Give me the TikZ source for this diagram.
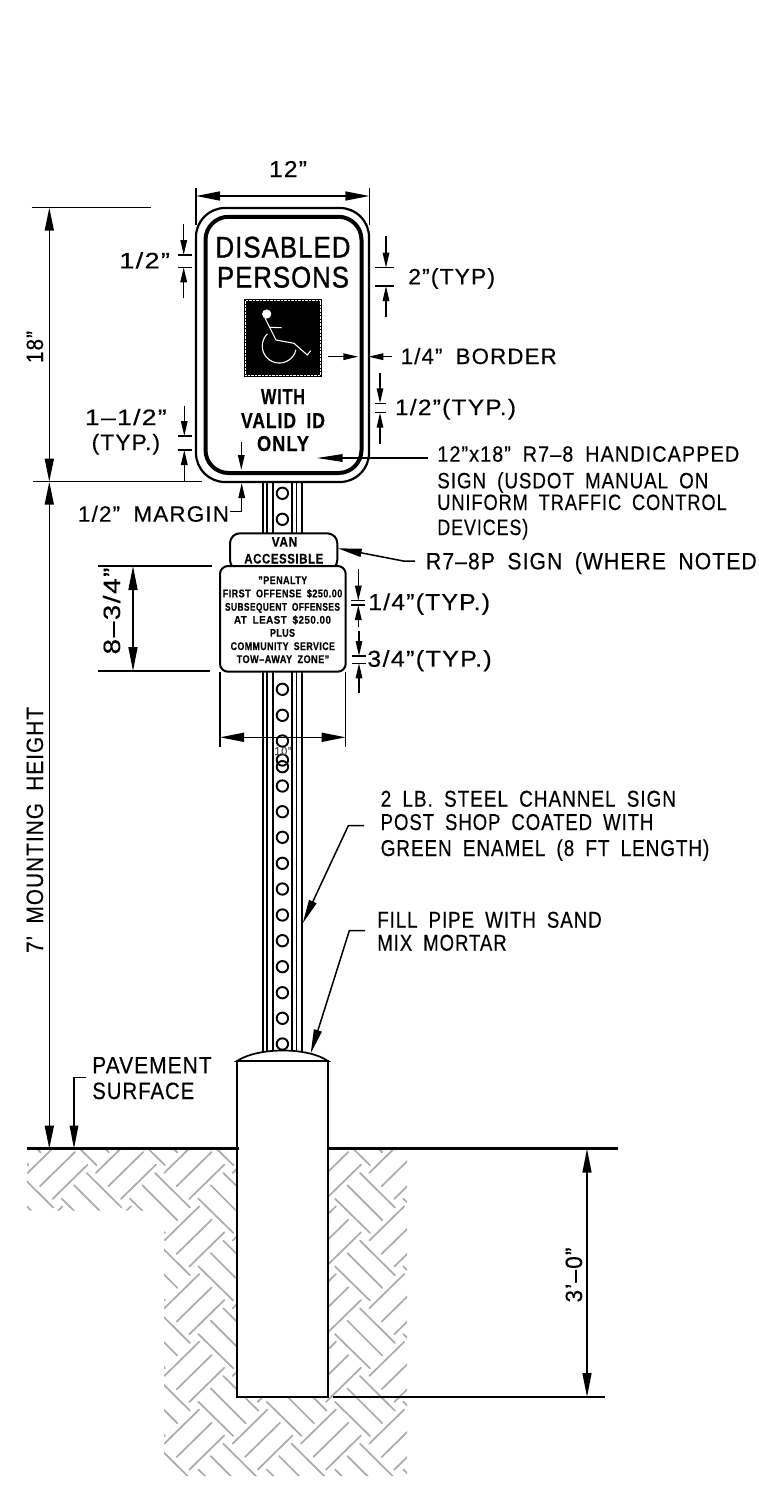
\documentclass[tikz,border=0pt]{standalone}
\usepackage{fontspec}
\usepackage{graphicx}
\setmainfont{Liberation Sans}[LetterSpace=5,WordSpace=1.8,FakeBold=0.35]
\newfontfamily\heavyf{Liberation Sans}[LetterSpace=4,WordSpace=1.8,FakeBold=1.1]
\usetikzlibrary{arrows.meta}
\newcommand\lbl[3]{\resizebox{#1pt}{#2pt}{\rule{0pt}{7.2pt}\smash{\fontsize{10}{10}\selectfont #3}}}
\tikzset{
  lab/.style={inner sep=0pt,outer sep=0pt,anchor=south west},
  labc/.style={inner sep=0pt,outer sep=0pt,anchor=south},
  labr/.style={inner sep=0pt,outer sep=0pt,anchor=south,rotate=90},
  thinl/.style={line width=1.5pt,black},
  small/.style={thinl,-{Triangle[length=15pt,width=6.5pt]}},
  hatchl/.style={line width=1.7pt,color=black!33,line cap=round},
}
\begin{document}
\begin{tikzpicture}[x=1pt,y=-1pt]
\useasboundingbox (0,0) rectangle (759,1488);
\fill[white] (0,0) rectangle (759,1488);
% hatch
\begin{scope}
\clip (27,1150) -- (407,1150) -- (407,1476) -- (164,1476) -- (164,1210.5) -- (27,1210.5) -- cycle;
\foreach \i in {-3,...,4}{\foreach \j in {-4,...,2}{
 \begin{scope}[shift={({\i*68.33},{\j*67.7})}]
 \draw[hatchl] (164.3,1376)--(199.3,1341.7) (176.7,1389.3)--(211.7,1355) (189.3,1402)--(224.3,1367.7);
 \draw[hatchl] (198.3,1401.7)--(233.3,1436) (210.7,1388.3)--(245.7,1423.3) (223.3,1376)--(258.3,1410.7);
 \end{scope}
}}
\end{scope}
% post
\foreach \x in {262.9,267.3,272.8,292.2,296.6,301.7}{\draw[line width=1.7pt] (\x,482)--(\x,1052);}
\foreach \y in {493.3,519.3,689.3,715.3,741,760,766.7,786,811.7,837.3,863.3,889,915,940.7,966.7,992.7,1018.3,1044}{
  \draw[line width=1.9pt] (282.4,\y) circle[radius=5.7];}
% concrete
\draw[line width=1.7pt,fill=white] (237,1061) .. controls (258,1047) and (308,1047) .. (328,1061) -- cycle;
\draw[line width=1.8pt,fill=white] (237,1061) rectangle (327.8,1397);
% ground
\draw[line width=2.6pt] (27,1148.7)--(239,1148.7) (328.6,1148.7)--(618,1148.7);
\draw[thinl] (333,1397)--(605,1397);
% main sign
\draw[line width=2.2pt,fill=white,rounded corners=29pt] (196,208) rectangle (369,482);
\draw[line width=4pt,rounded corners=23pt] (205.5,216.8) rectangle (361.5,473);
\node[labc] (disabled) at (283,257.5) {\lbl{135}{21.5}{\heavyf DISABLED}};
\node[labc] (persons) at (283,287.5) {\lbl{132}{21.5}{\heavyf PERSONS}};
\fill[black] (244,299) rectangle (321.7,376.7);
\draw[white,line width=.4pt,densely dotted] (245.5,300.5) rectangle (320.2,375.2);
\fill[white] (266.7,314) circle[radius=4.6];
\draw[white,line width=1.1pt,line join=round] (265,318)--(276,340)--(294,343.3)--(307.3,355)--(310.7,350.7);
\draw[white,line width=1.1pt] (270,327.3)--(281.7,327.7);
\draw[white,line width=1.1pt] plot[domain=226:13,samples=40] ({279.3+17*cos(\x)},{346+17*sin(\x)});
\node[labc] (with) at (283,404) {\lbl{44}{15.5}{\bfseries WITH}};
\node[labc] (valid) at (283,428) {\lbl{84}{15.5}{\bfseries VALID ID}};
\node[labc] (only) at (283,451) {\lbl{52}{15.5}{\bfseries ONLY}};
% van + lower sign
\draw[line width=2pt,fill=white,rounded corners=10pt] (230,533.3) rectangle (337.3,570);
\node[labc] (van) at (284.5,546.7) {\lbl{25.6}{10}{\bfseries VAN}};
\node[labc] (access) at (283.8,563.5) {\lbl{79}{10}{\bfseries ACCESSIBLE}};
\draw[line width=2pt,fill=white,rounded corners=8pt] (220,566) rectangle (345.7,671.7);
\node[labc] (p1) at (282.8,584) {\lbl{49}{8}{\bfseries ”PENALTY}};
\node[labc] (p2) at (282.5,597.3) {\lbl{119.6}{8}{\bfseries FIRST OFFENSE \$250.00}};
\node[labc] (p3) at (282.5,610.7) {\lbl{115}{8}{\bfseries SUBSEQUENT OFFENSES}};
\node[labc] (p4) at (282.5,623.7) {\lbl{97}{8}{\bfseries AT LEAST \$250.00}};
\node[labc] (p5) at (282.5,636.7) {\lbl{25}{8}{\bfseries PLUS}};
\node[labc] (p6) at (282.8,650) {\lbl{104.3}{8}{\bfseries COMMUNITY SERVICE}};
\node[labc] (p7) at (283,663) {\lbl{92.6}{8}{\bfseries TOW–AWAY ZONE”}};
% 12 in
\draw[thinl] (196,188)--(196,225) (369.3,188)--(369.3,225);
\coordinate (t1) at (196,196); \coordinate (t2) at (369.3,196);
\draw[thinl,{Triangle[length=24pt,width=9pt]}-{Triangle[length=24pt,width=9pt]}] (t1)--(t2);
\node[labc] (n12) at (288,177) {\lbl{38}{16.5}{12”}};
% 18 in
\draw[thinl] (31.7,207.7)--(150.5,207.7) (33,481.7)--(202,481.7);
\coordinate (a1) at (49.3,207.7); \coordinate (a2) at (49.3,481.7); \coordinate (a3) at (49.3,1148.7);
\draw[thinl,{Triangle[length=23pt,width=9pt]}-{Triangle[length=23pt,width=9pt]}] (a1)--(a2);
\draw[thinl,{Triangle[length=23pt,width=9pt]}-{Triangle[length=23pt,width=9pt]}] (a2)--(a3);
\node[labr] (n18) at (43,347) {\lbl{32}{17}{18”}};
\node[labr] (n7) at (43,830) {\lbl{246}{17}{7’ MOUNTING HEIGHT}};
% small dims left
\draw[thinl] (178,255)--(192,255) (178,267.3)--(192,267.3);
\draw[small] (183.7,224)--(183.7,255); \draw[small] (183.7,298.3)--(183.7,267.3);
\node[lab] (h12) at (119.3,268.3) {\lbl{50.7}{16}{1/2”}};
\draw[thinl] (178,436)--(192,436) (178,450)--(192,450);
\draw[small] (184.3,405.7)--(184.3,436); \draw[small] (184.3,481.7)--(184.3,450);
\node[lab] (h112) at (85,425) {\lbl{81.7}{16}{1–1/2”}};
\node[lab] (htyp) at (91.7,450) {\lbl{68.3}{16}{(TYP.)}};
% margin
\draw[small] (241.3,441.7)--(241.3,470);
\draw[small] (230,511.7)-|(241.7,483);
\node[lab] (marg) at (78,521.7) {\lbl{151}{16}{1/2” MARGIN}};
% right dims
\draw[thinl] (375,267.7)--(394.3,267.7) (375,286)--(394.3,286);
\draw[small] (386,236)--(386,267.7); \draw[small] (386,317.3)--(386,286);
\node[lab] (r2) at (408.3,284.3) {\lbl{86.7}{16}{2”(TYP)}};
\draw[small] (328.3,356.7)--(358.3,356.7); \draw[small] (391.7,356.7)--(368.3,356.7);
\node[lab] (r14) at (400.7,364) {\lbl{156}{16}{1/4” BORDER}};
\draw[thinl] (375,403.3)--(386,403.3) (375,412.7)--(386,412.7);
\draw[small] (380,373.3)--(380,403.3); \draw[small] (380,444.3)--(380,412.7);
\node[lab] (r12) at (395,415) {\lbl{121}{16}{1/2”(TYP.)}};
\coordinate (ld1) at (428,458);
\draw[thinl,-{Triangle[length=26pt,width=7.5pt]}] (ld1)--(316.7,458);
\node[lab] (s1) at (437.3,461.7) {\lbl{302}{16}{12”x18” R7–8 HANDICAPPED}};
\node[lab] (s2) at (437.3,488.3) {\lbl{271}{16}{SIGN (USDOT MANUAL ON}};
\node[lab] (s3) at (437.3,510) {\lbl{289.4}{16}{UNIFORM TRAFFIC CONTROL}};
\node[lab] (s4) at (437.3,535) {\lbl{91}{16}{DEVICES)}};
% van leader
\draw[thinl,-{Triangle[length=24pt,width=8pt]}] (415,561)--(403.3,561)--(337.7,548.3);
\node[lab] (r78) at (426,569.3) {\lbl{330.7}{17}{R7–8P SIGN (WHERE NOTED}};
% lower sign dims
\draw[thinl] (351,600.7)--(365,600.7) (351,605)--(365,605);
\draw[small] (358.3,569.3)--(358.3,600.7); \draw[small] (358.3,627.3)--(358.3,605);
\node[lab] (r14t) at (368.3,610) {\lbl{121.7}{16.5}{1/4”(TYP.)}};
\draw[thinl] (352,656)--(366,656) (352,663.3)--(366,663.3);
\draw[small] (359,630.7)--(359,656); \draw[small] (359,693.3)--(359,663.3);
\node[lab] (r34t) at (367.3,666.7) {\lbl{124.4}{16.5}{3/4”(TYP.)}};
% 8-3/4
\draw[thinl] (98,566)--(212,566) (98,671)--(210,671);
\coordinate (b1) at (133,566); \coordinate (b2) at (133,671);
\draw[thinl,{Triangle[length=24pt,width=9pt]}-{Triangle[length=24pt,width=9pt]}] (b1)--(b2);
\node[labr] (n834) at (120,611) {\lbl{87}{17}{8–3/4”}};
% 10 in
\draw[thinl] (220,672)--(220,746.7) (345.7,672)--(345.7,746.7);
\coordinate (c1) at (220,737.3); \coordinate (c2) at (345.7,737.3);
\draw[thinl,{Triangle[length=24pt,width=9pt]}-{Triangle[length=24pt,width=9pt]}] (c1)--(c2);
\node[labc] (n10) at (283,755) {\lbl{17.4}{8.3}{\color{black!70}10”}};
% channel, mortar
\draw[thinl,-{Triangle[length=24pt,width=8pt]}] (364,825.7)--(348.3,825.7)--(302.7,923.3);
\node[lab] (c2a) at (380.7,806.7) {\lbl{295.3}{16.5}{2 LB. STEEL CHANNEL SIGN}};
\node[lab] (c2b) at (380.7,830) {\lbl{272.6}{16.5}{POST SHOP COATED WITH}};
\node[lab] (c2c) at (380.7,856) {\lbl{328.6}{16.5}{GREEN ENAMEL (8 FT LENGTH)}};
\draw[thinl,-{Triangle[length=24pt,width=8pt]}] (365,930.7)--(349.3,930.7)--(310.7,1053.3);
\node[lab] (f1) at (377.3,927.7) {\lbl{224.4}{16.5}{FILL PIPE WITH SAND}};
\node[lab] (f2) at (377.3,950.7) {\lbl{129.4}{16.5}{MIX MORTAR}};
% pavement
\draw[thinl,-{Triangle[length=23pt,width=8.5pt]}] (85.7,1077.3)-|(74,1148.7);
\node[lab] (pv1) at (92.3,1073.3) {\lbl{119.4}{17}{PAVEMENT}};
\node[lab] (pv2) at (92.3,1099) {\lbl{102}{17}{SURFACE}};
% 3-0
\coordinate (d1) at (587,1148.7); \coordinate (d2) at (587,1397);
\draw[thinl,{Triangle[length=24pt,width=9pt]}-{Triangle[length=24pt,width=9pt]}] (d1)--(d2);
\node[labr] (n30) at (582,1275) {\lbl{55}{17}{3’–0”}};
\end{tikzpicture}
\end{document}
